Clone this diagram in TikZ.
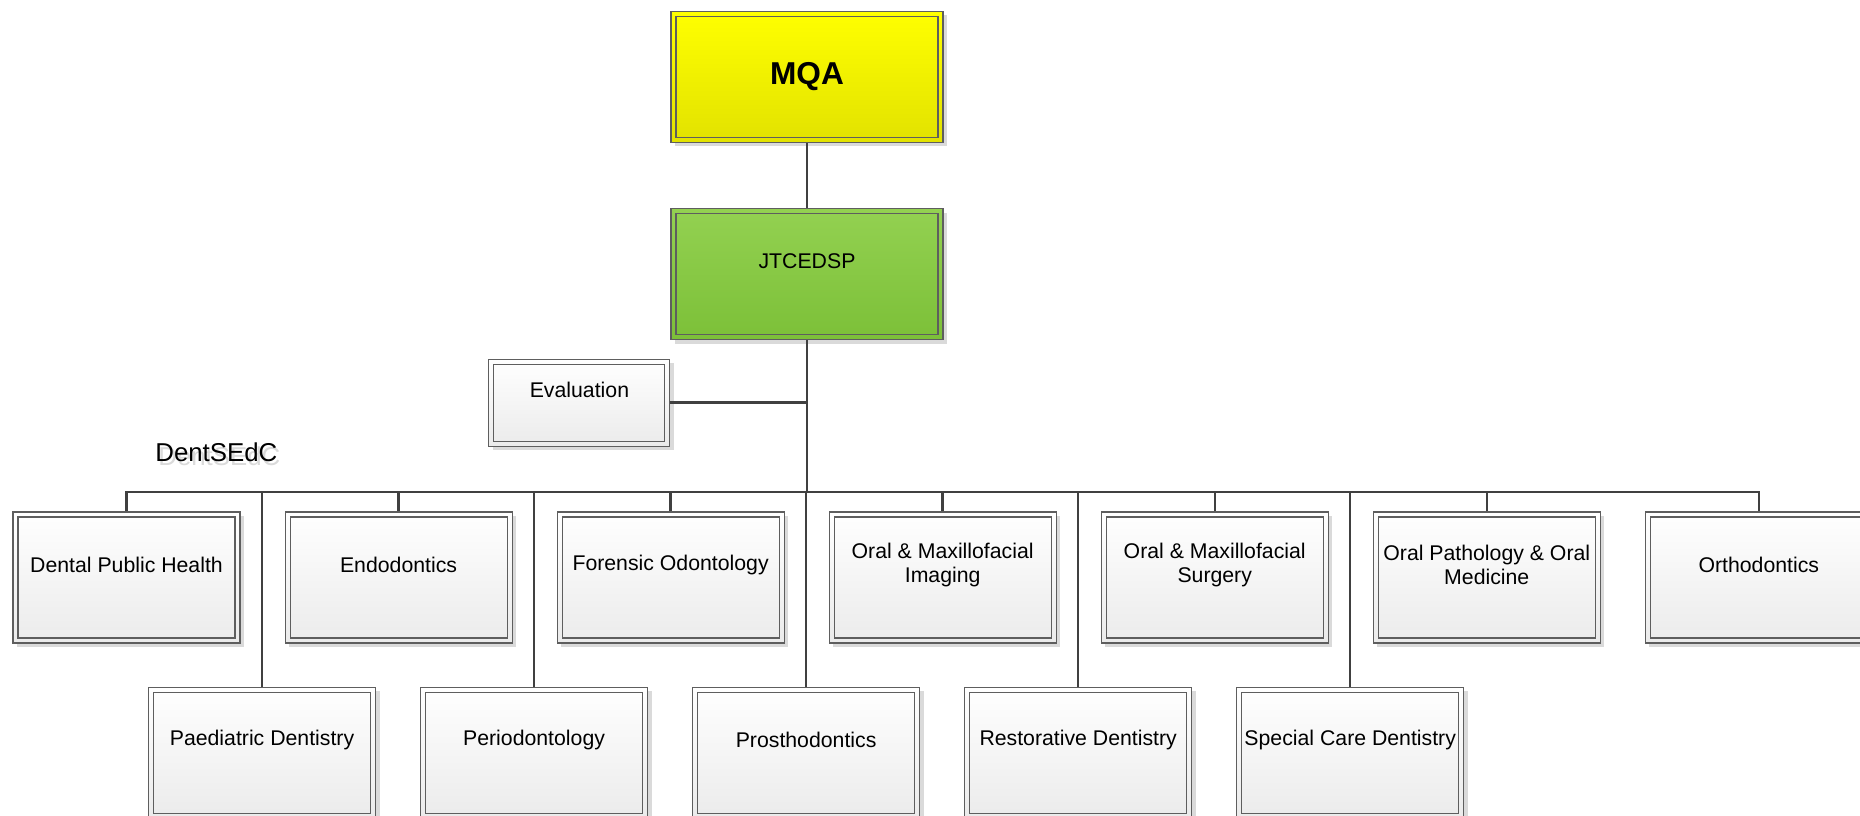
\documentclass[tikz,border=0pt]{standalone}
\usepackage{fontspec}
\setmainfont{Liberation Sans}
\usepackage{tikz}
\usetikzlibrary{positioning, shadows}
\usepackage{xcolor}
\definecolor{mqatop}{HTML}{FFFF00}
\definecolor{mqabot}{HTML}{E2E200}
\definecolor{jtctop}{HTML}{93D151}
\definecolor{jtcbot}{HTML}{7CC038}
\definecolor{unittop}{HTML}{FFFFFF}
\definecolor{unitbot}{HTML}{EBEBEB}
\definecolor{edge}{HTML}{5E5E5E}
\definecolor{linkcol}{HTML}{404040}
\definecolor{boxshadow}{HTML}{DADADA}
\tikzset{
    basebox/.style={
        rectangle, draw=edge, line width=0.6pt, shade,
        drop shadow={shadow xshift=0.08cm, shadow yshift=-0.08cm, fill=boxshadow, opacity=1},
        path picture={
            \draw[edge, line width=0.6pt]
                ([shift={(0.1cm,0.1cm)}]path picture bounding box.south west) rectangle
                ([shift={(-0.1cm,-0.1cm)}]path picture bounding box.north east);
        }
    },
    headbox/.style={
        basebox, minimum width=5.44cm, minimum height=2.62cm
    },
    unitbox/.style={
        basebox, top color=unittop, bottom color=unitbot,
        minimum width=4.54cm, minimum height=2.62cm
    },
    evalbox/.style={
        basebox, top color=unittop, bottom color=unitbot,
        minimum width=3.62cm, minimum height=1.74cm
    },
    mqafill/.style={
        top color=mqatop, bottom color=mqabot
    },
    jtcfill/.style={
        top color=jtctop, bottom color=jtcbot
    },
    unittext/.style={
        yshift=0.25cm, align=center, inner sep=0pt,
        font=\fontsize{12.1}{13.6}\selectfont
    },
    grouptext/.style={
        anchor=base west, inner sep=0pt, font=\fontsize{14.7}{17}\selectfont
    },
    link/.style={
        draw=linkcol, line width=1.4pt
    }
}

\begin{document}
\begin{tikzpicture}[node distance=1.3cm and 0.88cm]

    \useasboundingbox (0,0) rectangle (37.2,-16.32);
    \clip (0,0) rectangle (37.2,-16.32);

    % top of the tree
    \node[headbox, mqafill, font=\fontsize{18}{21}\selectfont\bfseries] (mqa) at (16.14,-1.54) {MQA};
    \node[headbox, jtcfill, below=of mqa,
          label={[unittext, name=jtc-t]center:JTCEDSP}]                  (jtc)    {};
    \node[evalbox, below left=0.37cm and 0cm of jtc,
          label={[unittext, name=eval-t]center:Evaluation}]              (eval)   {};
    \coordinate[below=3.04cm of jtc] (bus);

    % group caption
    \node[grouptext, text=boxshadow] (dentsedc-s) at (3.16,-9.32) {DentSEdC};
    \node[grouptext]                 (dentsedc)   at (3.1,-9.24)  {DentSEdC};

    % first row
    \node[unitbox, label={[unittext, name=dph-t]center:Dental Public Health}] (dph) at (2.53,-11.55) {};
    \node[unitbox, right=of dph,
          label={[unittext, name=endo-t]center:Endodontics}]                 (endo)   {};
    \node[unitbox, right=of endo,
          label={[unittext, name=forod-t]center:Forensic Odontology}]        (forod)  {};
    \node[unitbox, right=of forod,
          label={[unittext, name=omi-t]center:Oral \& Maxillofacial\\Imaging}] (omi)  {};
    \node[unitbox, right=of omi,
          label={[unittext, name=oms-t]center:Oral \& Maxillofacial\\Surgery}] (oms)  {};
    \node[unitbox, right=of oms,
          label={[unittext, name=opom-t]center:Oral Pathology \& Oral\\Medicine}] (opom) {};
    \node[unitbox, right=of opom,
          label={[unittext, name=ortho-t]center:Orthodontics}]               (ortho)  {};

    % second row
    \node[unitbox, below=0.86cm of dph, xshift=2.71cm,
          label={[unittext, name=paed-t]center:Paediatric Dentistry}]        (paed)   {};
    \node[unitbox, right=of paed,
          label={[unittext, name=perio-t]center:Periodontology}]             (perio)  {};
    \node[unitbox, right=of perio,
          label={[unittext, name=prosth-t]center:Prosthodontics}]            (prosth) {};
    \node[unitbox, right=of prosth,
          label={[unittext, name=resto-t]center:Restorative Dentistry}]      (resto)  {};
    \node[unitbox, right=of resto,
          label={[unittext, name=scd-t]center:Special Care Dentistry}]       (scd)    {};

    % connectors
    \draw[link] (mqa)  -- (jtc);
    \draw[link] (jtc)  -- (bus);
    \draw[link] (eval) -- (eval -| bus);

    \draw[link] (dph.north)    |- (bus);
    \draw[link] (endo.north)   |- (bus);
    \draw[link] (forod.north)  |- (bus);
    \draw[link] (omi.north)    |- (bus);
    \draw[link] (oms.north)    |- (bus);
    \draw[link] (opom.north)   |- (bus);
    \draw[link] (ortho.north)  |- (bus);
    \draw[link] (paed.north)   |- (bus);
    \draw[link] (perio.north)  |- (bus);
    \draw[link] (prosth.north) |- (bus);
    \draw[link] (resto.north)  |- (bus);
    \draw[link] (scd.north)    |- (bus);

\end{tikzpicture}
\end{document}
